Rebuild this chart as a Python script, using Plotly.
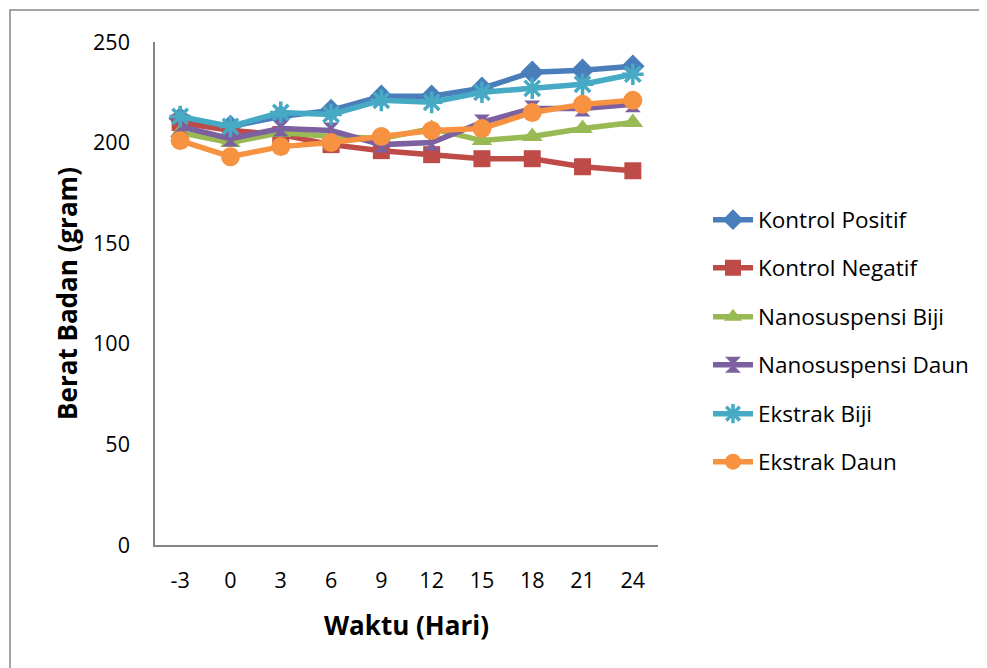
import plotly.graph_objects as go

days = ["-3", "0", "3", "6", "9", "12", "15", "18", "21", "24"]
kontrol_positif = [212, 208, 213, 216, 223, 223, 227, 235, 236, 238]
kontrol_negatif = [210, 206, 204, 199, 196, 194, 192, 192, 188, 186]
nano_biji = [205, 200, 205, 203, 202, 207, 201, 203, 207, 210]
nano_daun = [208, 202, 207, 206, 199, 200, 210, 217, 217, 219]
ekstrak_biji = [213, 208, 215, 214, 221, 220, 225, 227, 229, 234]
ekstrak_daun = [201, 193, 198, 200, 203, 206, 207, 215, 219, 221]

series = [
    ("Kontrol Positif", kontrol_positif, "#4A7EBB", "diamond", 18),
    ("Kontrol Negatif", kontrol_negatif, "#BE4B48", "square", 17),
    ("Nanosuspensi Biji", nano_biji, "#98B954", "triangle-up", 18),
    ("Nanosuspensi Daun", nano_daun, "#7D60A0", "hourglass", 16),
    ("Ekstrak Biji", ekstrak_biji, "#46AAC5", "asterisk-open", 18),
    ("Ekstrak Daun", ekstrak_daun, "#F69240", "circle", 19),
]

FONT = "Open Sans"
OFF = 8  # page body margin
W, H = 987 - OFF, 668 - OFF
L, T = 155 - OFF, 42 - OFF
R = W - (658 - OFF)
B = H - (545 - OFF)
pw, ph = W - L - R, H - T - B

fig = go.Figure()
legend_y_px = [220, 268, 317, 365, 414, 462]
for i, (name, vals, color, sym, size) in enumerate(series):
    lg = "legend" if i == 0 else f"legend{i+1}"
    marker = dict(symbol=sym, size=size, color=color)
    if sym == "asterisk-open":
        marker["line"] = dict(color=color, width=3.5)
    fig.add_trace(go.Scatter(
        x=days, y=vals, name=name, mode="lines+markers",
        line=dict(color=color, width=5.5), marker=marker,
        legend=lg,
    ))
    ly = (545 - legend_y_px[i]) / ph
    fig.update_layout(**{lg: dict(
        x=(708 - 155) / pw, y=ly, xanchor="left", yanchor="middle",
        font=dict(family=FONT, size=22.5, color="#000"),
        bgcolor="rgba(0,0,0,0)", itemwidth=40,
    )})

fig.update_layout(
    width=W, height=H,
    margin=dict(l=L, r=R, t=T, b=B, autoexpand=False),
    paper_bgcolor="white", plot_bgcolor="white",
    font=dict(family=FONT, size=21, color="#000"),
    showlegend=True,
    xaxis=dict(
        type="category", range=[-0.5, len(days) - 0.5],
        showline=True, linecolor="#868686", linewidth=1.5,
        showgrid=False, zeroline=False, ticks="", ticklabelstandoff=15,
        tickfont=dict(size=21.5), automargin=False,
        title=dict(text="<b>Waktu (Hari)</b>", font=dict(size=26), standoff=24),
    ),
    yaxis=dict(
        range=[0, 250], tickvals=[0, 50, 100, 150, 200, 250],
        showline=True, linecolor="#868686", linewidth=1.5,
        showgrid=False, zeroline=False, ticks="", ticklabelstandoff=19,
        tickfont=dict(size=21.5), automargin=False,
        title=dict(text="<b>Berat Badan (gram)</b>", font=dict(size=26), standoff=8),
    ),
)

fig.add_shape(type="rect", xref="paper", yref="paper",
              x0=(10 - 155) / pw, x1=(1100 - 155) / pw,
              y0=(545 - 800) / ph, y1=(545 - 10) / ph,
              line=dict(color="#868686", width=1.5), layer="below")

fig.write_html("out.html")
